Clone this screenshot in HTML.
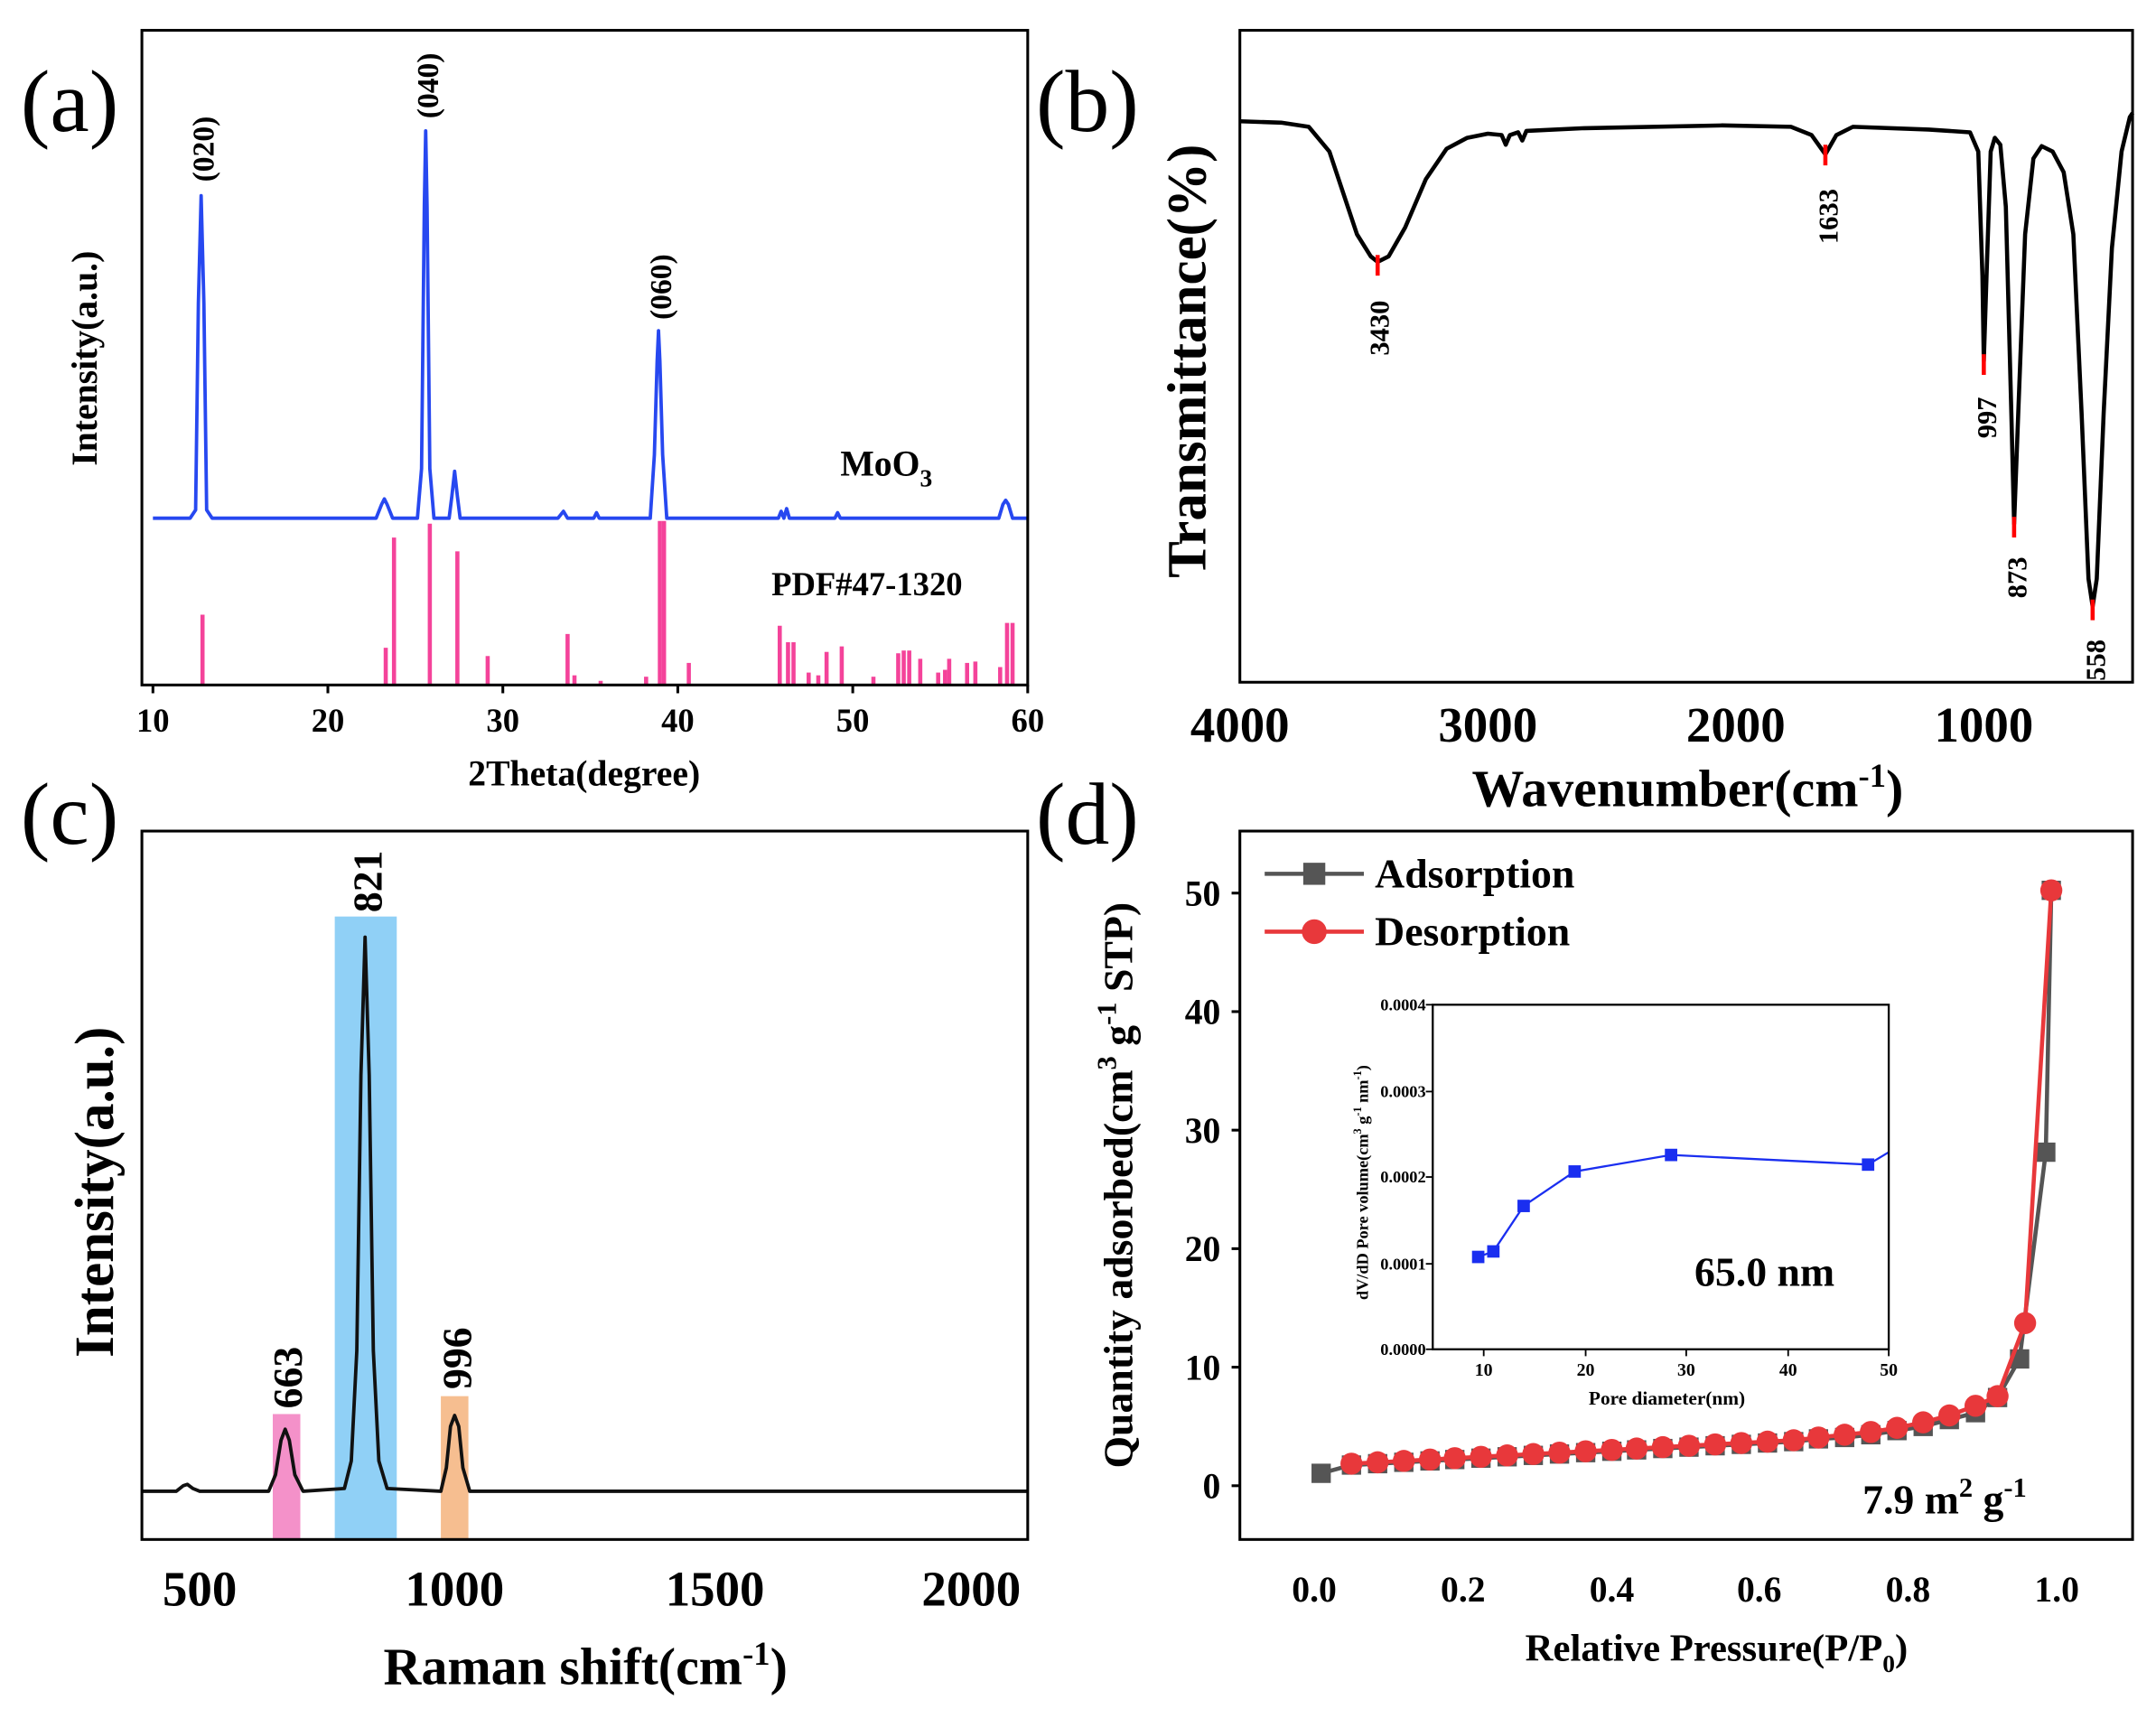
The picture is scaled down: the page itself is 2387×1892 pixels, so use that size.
<!DOCTYPE html>
<html><head><meta charset="utf-8"><style>
html,body{margin:0;padding:0;background:#fff}
svg{display:block}
text{font-family:"Liberation Serif",serif;font-weight:bold}
</style></head><body>
<svg width="2387" height="1892" viewBox="0 0 1565 1240" preserveAspectRatio="none" xmlns="http://www.w3.org/2000/svg">
<rect width="1565" height="1240" fill="#fff"/>
<text x="15" y="95" font-size="64" style="font-weight:normal">(a)</text>
<text x="752" y="95" font-size="64" style="font-weight:normal">(b)</text>
<text x="15" y="612" font-size="64" style="font-weight:normal">(c)</text>
<text x="752" y="612" font-size="64" style="font-weight:normal">(d)</text>

<!-- (a) -->
<path fill="none" stroke="#2748f0" stroke-width="2.5" stroke-linejoin="round" d="M111,376 L138,376 L142,370 L144,220 L146,142 L148,220 L150,370 L154,376 L273,376 L277,366 L279,362 L281,366 L285,376 L303,376 L306,340 L308,150 L309,95 L310,150 L312,340 L315,376 L326,376 L328,360 L330,342 L332,360 L334,376 L405,376 L409,371 L412,376 L431,376 L433,372 L435,376 L472,376 L475,330 L477,262 L478,240 L479,262 L481,330 L484,376 L565,376 L567,371 L569,376 L571,369 L573,376 L606,376 L608,372 L610,376 L725,376 L728,366 L730,363 L732,366 L735,376 L746,376"/>
<g stroke="#f4439a" stroke-width="3">
<line x1="147" y1="497" x2="147" y2="446"/><line x1="280" y1="497" x2="280" y2="470"/><line x1="286" y1="497" x2="286" y2="390"/>
<line x1="312" y1="497" x2="312" y2="380"/><line x1="332" y1="497" x2="332" y2="400"/><line x1="354" y1="497" x2="354" y2="476"/>
<line x1="412" y1="497" x2="412" y2="460"/><line x1="417" y1="497" x2="417" y2="490"/><line x1="436" y1="497" x2="436" y2="494"/>
<line x1="469" y1="497" x2="469" y2="491"/><line x1="479" y1="497" x2="479" y2="378"/><line x1="482" y1="497" x2="482" y2="378"/>
<line x1="500" y1="497" x2="500" y2="481"/><line x1="566" y1="497" x2="566" y2="454"/><line x1="572" y1="497" x2="572" y2="466"/>
<line x1="576" y1="497" x2="576" y2="466"/><line x1="587" y1="497" x2="587" y2="488"/><line x1="594" y1="497" x2="594" y2="490"/>
<line x1="600" y1="497" x2="600" y2="473"/><line x1="611" y1="497" x2="611" y2="469"/><line x1="634" y1="497" x2="634" y2="491"/>
<line x1="652" y1="497" x2="652" y2="474"/><line x1="656" y1="497" x2="656" y2="472"/><line x1="660" y1="497" x2="660" y2="472"/>
<line x1="668" y1="497" x2="668" y2="478"/><line x1="681" y1="497" x2="681" y2="488"/><line x1="686" y1="497" x2="686" y2="486"/>
<line x1="689" y1="497" x2="689" y2="478"/><line x1="702" y1="497" x2="702" y2="481"/><line x1="708" y1="497" x2="708" y2="480"/>
<line x1="726" y1="497" x2="726" y2="484"/><line x1="731" y1="497" x2="731" y2="452"/><line x1="735" y1="497" x2="735" y2="452"/>
</g>
<rect x="103" y="22" width="643" height="475" fill="none" stroke="#000" stroke-width="2"/>
<g stroke="#000" stroke-width="2">
<line x1="111" y1="497" x2="111" y2="503"/><line x1="238" y1="497" x2="238" y2="503"/><line x1="365" y1="497" x2="365" y2="503"/><line x1="492" y1="497" x2="492" y2="503"/><line x1="619" y1="497" x2="619" y2="503"/><line x1="746" y1="497" x2="746" y2="503"/>
</g>
<g font-size="24" text-anchor="middle">
<text x="111" y="531">10</text><text x="238" y="531">20</text><text x="365" y="531">30</text><text x="492" y="531">40</text><text x="619" y="531">50</text><text x="746" y="531">60</text>
</g>
<text x="424" y="570" font-size="26" text-anchor="middle">2Theta(degree)</text>
<text transform="translate(70,260) rotate(-90)" font-size="26" text-anchor="middle">Intensity(a.u.)</text>
<text transform="translate(155,132) rotate(-90)" font-size="22">(020)</text>
<text transform="translate(318,86) rotate(-90)" font-size="22">(040)</text>
<text transform="translate(487,232) rotate(-90)" font-size="22">(060)</text>
<text x="610" y="345" font-size="26">MoO<tspan font-size="18" dy="8">3</tspan></text>
<text x="560" y="432" font-size="24">PDF#47-1320</text>

<!-- (b) -->
<path fill="none" stroke="#000" stroke-width="3" stroke-linejoin="round" d="M900,88 L930,89 L950,92 L965,110 L975,140 L985,170 L995,186 L1000,190 L1008,186 L1020,165 L1035,130 L1050,108 L1065,100 L1080,97 L1090,98 L1093,105 L1096,98 L1102,96 L1105,102 L1108,95 L1150,93 L1250,91 L1300,92 L1315,98 L1325,112 L1333,98 L1345,92 L1400,94 L1430,96 L1436,110 L1439,200 L1440,262 L1442,200 L1445,110 L1448,100 L1452,105 L1456,150 L1460,300 L1462,380 L1465,300 L1470,170 L1476,115 L1482,106 L1490,110 L1498,125 L1505,170 L1511,300 L1516,420 L1519,440 L1522,420 L1527,300 L1533,180 L1540,110 L1546,85 L1548,82"/>
<g stroke="#f00" stroke-width="3">
<line x1="1000" y1="185" x2="1000" y2="200"/><line x1="1325" y1="105" x2="1325" y2="120"/><line x1="1440" y1="257" x2="1440" y2="272"/><line x1="1462" y1="375" x2="1462" y2="390"/><line x1="1519" y1="435" x2="1519" y2="450"/>
</g>
<rect x="900" y="22" width="648" height="473" fill="none" stroke="#000" stroke-width="2"/>
<g font-size="36" text-anchor="middle">
<text x="900" y="538">4000</text><text x="1080" y="538">3000</text><text x="1260" y="538">2000</text><text x="1440" y="538">1000</text>
</g>
<text x="1225" y="585" font-size="38" text-anchor="middle">Wavenumber(cm<tspan font-size="24" dy="-14">-1</tspan><tspan dy="14">)</tspan></text>
<text transform="translate(875,262) rotate(-90)" font-size="40" text-anchor="middle">Transmittance(%)</text>
<g font-size="20">
<text transform="translate(1008,258) rotate(-90)">3430</text>
<text transform="translate(1334,177) rotate(-90)">1633</text>
<text transform="translate(1449,318) rotate(-90)">997</text>
<text transform="translate(1471,434) rotate(-90)">873</text>
<text transform="translate(1528,494) rotate(-90)">558</text>
</g>

<!-- (c) -->
<rect x="198" y="1026" width="20" height="91" fill="#f27ec0" opacity="0.85"/>
<rect x="243" y="665" width="45" height="452" fill="#7cc8f4" opacity="0.85"/>
<rect x="320" y="1013" width="20" height="104" fill="#f4b37c" opacity="0.85"/>
<path fill="none" stroke="#111" stroke-width="2.5" stroke-linejoin="round" d="M103,1082 L128,1082 L133,1078 L136,1077 L140,1080 L145,1082 L195,1082 L200,1070 L204,1045 L207,1037 L210,1045 L214,1070 L220,1082 L250,1080 L255,1060 L259,980 L262,780 L265,680 L268,780 L271,980 L275,1060 L281,1080 L320,1082 L324,1065 L327,1035 L330,1027 L333,1035 L336,1065 L341,1082 L746,1082"/>
<rect x="103" y="603" width="643" height="514" fill="none" stroke="#000" stroke-width="2"/>
<g font-size="36" text-anchor="middle">
<text x="145" y="1165">500</text><text x="330" y="1165">1000</text><text x="519" y="1165">1500</text><text x="705" y="1165">2000</text>
</g>
<text x="425" y="1222" font-size="38" text-anchor="middle">Raman shift(cm<tspan font-size="24" dy="-14">-1</tspan><tspan dy="14">)</tspan></text>
<text transform="translate(82,865) rotate(-90)" font-size="40" text-anchor="middle">Intensity(a.u.)</text>
<g font-size="30">
<text transform="translate(277,662) rotate(-90)">821</text>
<text transform="translate(219,1022) rotate(-90)">663</text>
<text transform="translate(342,1008) rotate(-90)">996</text>
</g>

<!-- (d) -->
<path fill="none" stroke="#555" stroke-width="3" d="M959,1069 L981,1063 L1000,1062 L1019,1061 L1038,1060 L1056,1059 L1075,1058 L1094,1057 L1113,1056 L1132,1055 L1151,1054 L1170,1053 L1188,1052 L1207,1051 L1226,1050 L1245,1049 L1264,1048 L1283,1047 L1302,1046 L1320,1044 L1339,1043 L1358,1041 L1377,1038 L1396,1035 L1415,1030 L1434,1025 L1450,1014 L1466,986 L1485,836 L1489,646"/>
<g fill="#555">
<rect x="952" y="1062" width="14" height="14"/><rect x="974" y="1056" width="14" height="14"/><rect x="993" y="1055" width="14" height="14"/><rect x="1012" y="1054" width="14" height="14"/><rect x="1031" y="1053" width="14" height="14"/><rect x="1049" y="1052" width="14" height="14"/><rect x="1068" y="1051" width="14" height="14"/><rect x="1087" y="1050" width="14" height="14"/><rect x="1106" y="1049" width="14" height="14"/><rect x="1125" y="1048" width="14" height="14"/><rect x="1144" y="1047" width="14" height="14"/><rect x="1163" y="1046" width="14" height="14"/><rect x="1181" y="1045" width="14" height="14"/><rect x="1200" y="1044" width="14" height="14"/><rect x="1219" y="1043" width="14" height="14"/><rect x="1238" y="1042" width="14" height="14"/><rect x="1257" y="1041" width="14" height="14"/><rect x="1276" y="1040" width="14" height="14"/><rect x="1295" y="1039" width="14" height="14"/><rect x="1313" y="1037" width="14" height="14"/><rect x="1332" y="1036" width="14" height="14"/><rect x="1351" y="1034" width="14" height="14"/><rect x="1370" y="1031" width="14" height="14"/><rect x="1389" y="1028" width="14" height="14"/><rect x="1408" y="1023" width="14" height="14"/><rect x="1427" y="1018" width="14" height="14"/><rect x="1443" y="1007" width="14" height="14"/><rect x="1459" y="979" width="14" height="14"/><rect x="1478" y="829" width="14" height="14"/><rect x="1482" y="639" width="14" height="14"/>
</g>
<path fill="none" stroke="#e8383b" stroke-width="3" d="M981,1062 L1000,1061 L1019,1060 L1038,1059 L1056,1058 L1075,1057 L1094,1056 L1113,1055 L1132,1054 L1151,1053 L1170,1052 L1188,1051 L1207,1050 L1226,1049 L1245,1048 L1264,1047 L1283,1046 L1302,1045 L1320,1043 L1339,1041 L1358,1039 L1377,1036 L1396,1032 L1415,1027 L1434,1020 L1450,1013 L1470,960 L1489,646"/>
<g fill="#e8383b">
<circle cx="981" cy="1062" r="8"/><circle cx="1000" cy="1061" r="8"/><circle cx="1019" cy="1060" r="8"/><circle cx="1038" cy="1059" r="8"/><circle cx="1056" cy="1058" r="8"/><circle cx="1075" cy="1057" r="8"/><circle cx="1094" cy="1056" r="8"/><circle cx="1113" cy="1055" r="8"/><circle cx="1132" cy="1054" r="8"/><circle cx="1151" cy="1053" r="8"/><circle cx="1170" cy="1052" r="8"/><circle cx="1188" cy="1051" r="8"/><circle cx="1207" cy="1050" r="8"/><circle cx="1226" cy="1049" r="8"/><circle cx="1245" cy="1048" r="8"/><circle cx="1264" cy="1047" r="8"/><circle cx="1283" cy="1046" r="8"/><circle cx="1302" cy="1045" r="8"/><circle cx="1320" cy="1043" r="8"/><circle cx="1339" cy="1041" r="8"/><circle cx="1358" cy="1039" r="8"/><circle cx="1377" cy="1036" r="8"/><circle cx="1396" cy="1032" r="8"/><circle cx="1415" cy="1027" r="8"/><circle cx="1434" cy="1020" r="8"/><circle cx="1450" cy="1013" r="8"/><circle cx="1470" cy="960" r="8"/><circle cx="1489" cy="646" r="8"/>
</g>
<rect x="900" y="603" width="648" height="514" fill="none" stroke="#000" stroke-width="2"/>
<g stroke="#000" stroke-width="2">
<line x1="894" y1="1078" x2="900" y2="1078"/><line x1="894" y1="992" x2="900" y2="992"/><line x1="894" y1="906" x2="900" y2="906"/><line x1="894" y1="820" x2="900" y2="820"/><line x1="894" y1="734" x2="900" y2="734"/><line x1="894" y1="648" x2="900" y2="648"/>
</g>
<g font-size="26" text-anchor="end">
<text x="886" y="1087">0</text><text x="886" y="1001">10</text><text x="886" y="915">20</text><text x="886" y="829">30</text><text x="886" y="743">40</text><text x="886" y="657">50</text>
</g>
<g font-size="26" text-anchor="middle">
<text x="954" y="1162">0.0</text><text x="1062" y="1162">0.2</text><text x="1170" y="1162">0.4</text><text x="1277" y="1162">0.6</text><text x="1385" y="1162">0.8</text><text x="1493" y="1162">1.0</text>
</g>
<text x="1246" y="1205" font-size="28" text-anchor="middle">Relative Pressure(P/P<tspan font-size="18" dy="8">0</tspan><tspan dy="-8">)</tspan></text>
<text transform="translate(822,860) rotate(-90)" font-size="30" text-anchor="middle">Quantity adsorbed(cm<tspan font-size="20" dy="-12">3</tspan><tspan dy="12"> g</tspan><tspan font-size="20" dy="-12">-1</tspan><tspan dy="12"> STP)</tspan></text>
<line x1="918" y1="634" x2="990" y2="634" stroke="#555" stroke-width="3"/><rect x="946" y="626" width="16" height="16" fill="#555"/>
<text x="998" y="644" font-size="30">Adsorption</text>
<line x1="918" y1="676" x2="990" y2="676" stroke="#e8383b" stroke-width="3"/><circle cx="954" cy="676" r="9" fill="#e8383b"/>
<text x="998" y="686" font-size="30">Desorption</text>
<text x="1352" y="1098" font-size="30">7.9 m<tspan font-size="20" dy="-12">2</tspan><tspan dy="12"> g</tspan><tspan font-size="20" dy="-12">-1</tspan></text>

<!-- inset -->
<path fill="none" stroke="#1a2ef0" stroke-width="1.5" d="M1073,912 L1084,908 L1106,875 L1143,850 L1213,838 L1356,845 L1371,836"/>
<g fill="#1a2ef0">
<rect x="1068.5" y="907.5" width="9" height="9"/><rect x="1079.5" y="903.5" width="9" height="9"/><rect x="1101.5" y="870.5" width="9" height="9"/><rect x="1138.5" y="845.5" width="9" height="9"/><rect x="1208.5" y="833.5" width="9" height="9"/><rect x="1351.5" y="840.5" width="9" height="9"/>
</g>
<rect x="1040" y="729" width="331" height="250" fill="none" stroke="#000" stroke-width="1.5"/>
<g stroke="#000" stroke-width="1.2">
<line x1="1077" y1="979" x2="1077" y2="984"/><line x1="1151" y1="979" x2="1151" y2="984"/><line x1="1224" y1="979" x2="1224" y2="984"/><line x1="1298" y1="979" x2="1298" y2="984"/><line x1="1371" y1="979" x2="1371" y2="984"/>
<line x1="1035" y1="979" x2="1040" y2="979"/><line x1="1035" y1="917" x2="1040" y2="917"/><line x1="1035" y1="854" x2="1040" y2="854"/><line x1="1035" y1="792" x2="1040" y2="792"/><line x1="1035" y1="729" x2="1040" y2="729"/>
</g>
<g font-size="12" text-anchor="end">
<text x="1035" y="983">0.0000</text><text x="1035" y="921">0.0001</text><text x="1035" y="858">0.0002</text><text x="1035" y="796">0.0003</text><text x="1035" y="733">0.0004</text>
</g>
<g font-size="13" text-anchor="middle">
<text x="1077" y="998">10</text><text x="1151" y="998">20</text><text x="1224" y="998">30</text><text x="1298" y="998">40</text><text x="1371" y="998">50</text>
</g>
<text x="1210" y="1019" font-size="14" text-anchor="middle">Pore diameter(nm)</text>
<text transform="translate(993,858) rotate(-90)" font-size="12" text-anchor="middle">dV/dD Pore volume(cm<tspan font-size="8" dy="-5">3</tspan><tspan dy="5"> g</tspan><tspan font-size="8" dy="-5">-1</tspan><tspan dy="5"> nm</tspan><tspan font-size="8" dy="-5">-1</tspan><tspan dy="5">)</tspan></text>
<text x="1230" y="933" font-size="30">65.0 nm</text>
</svg>
</body></html>
